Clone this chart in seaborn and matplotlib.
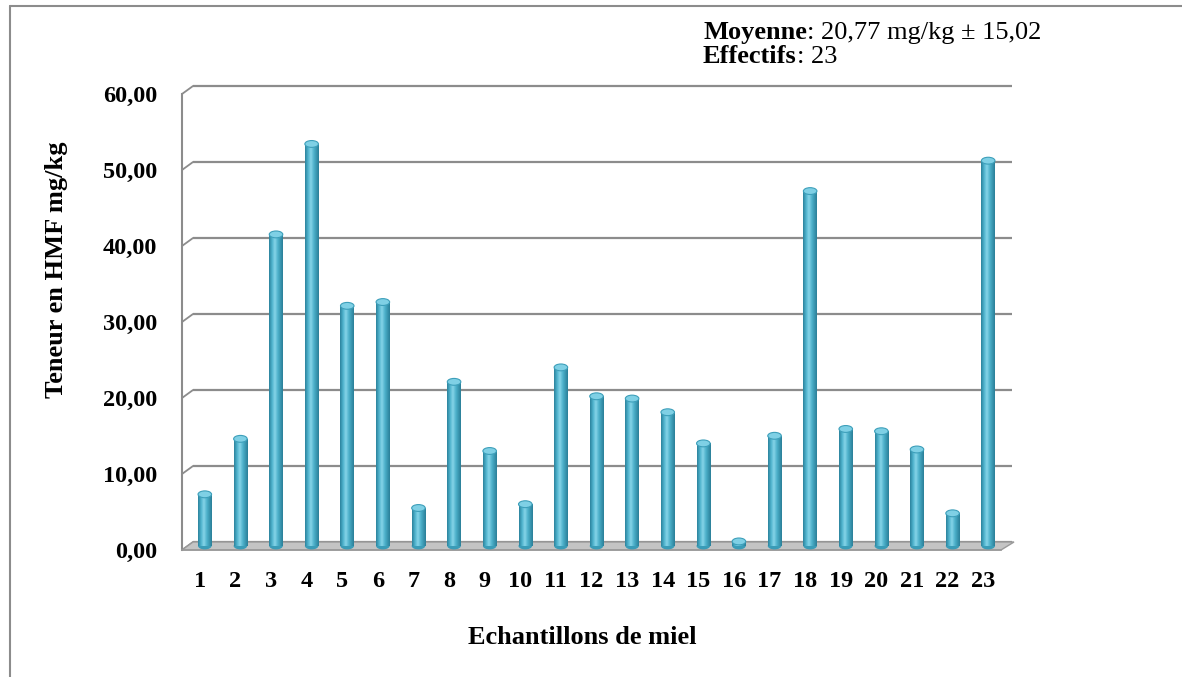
import numpy as np
import pandas as pd
import matplotlib
matplotlib.use("Agg")
import matplotlib.pyplot as plt
import seaborn as sns
from matplotlib.transforms import ScaledTranslation, IdentityTransform
from matplotlib.patches import Ellipse, Polygon
from matplotlib.lines import Line2D
from matplotlib.colors import LinearSegmentedColormap

# ---- data ----
samples = [str(i) for i in range(1, 24)]
hmf = [6.8, 14.1, 41.0, 52.9, 31.6, 32.1, 5.0, 21.6, 12.5, 5.5, 23.5, 19.7,
       19.4, 17.6, 13.5, 0.6, 14.5, 46.7, 15.4, 15.1, 12.7, 4.3, 50.7]
y_ticks = [0, 10, 20, 30, 40, 50, 60]
y_tick_labels = ["0,00", "10,00", "20,00", "30,00", "40,00", "50,00", "60,00"]
x_title = "Echantillons de miel"
y_title = "Teneur en HMF mg/kg"
mean_label = "Moyenne"
mean_text = ": 20,77 mg/kg \u00b1 15,02"
n_label = "Effectifs"
n_text = ": 23"

W, H, DPI = 1182, 677, 100
GRID = "#8c8c8c"

sns.set_style("white")
plt.rcParams["font.family"] = ["Liberation Serif", "DejaVu Serif"]
plt.rcParams["text.color"] = "black"
plt.rcParams["xtick.labelcolor"] = "black"
plt.rcParams["ytick.labelcolor"] = "black"

fig = plt.figure(figsize=(W / DPI, H / DPI), dpi=DPI)
fig.patch.set_facecolor("white")
ax = fig.add_axes([182 / W, (H - 550) / H, 819 / W, 456 / H])
ax.patch.set_visible(False)

df = pd.DataFrame({"sample": samples, "hmf": hmf})
sns.barplot(data=df, x="sample", y="hmf", color="#4bacc6", width=0.38,
            saturation=1, ax=ax, zorder=3, linewidth=0)

bar_off = ax.transData + ScaledTranslation(5 / DPI, 4 / DPI, fig.dpi_scale_trans)
back_off = ax.transData + ScaledTranslation(11 / DPI, 8 / DPI, fig.dpi_scale_trans)

cmap = LinearSegmentedColormap.from_list(
    "cyl", [(0, "#2b829c"), (0.22, "#4fb3cd"), (0.42, "#86d4e8"),
            (0.65, "#4cb0ca"), (1, "#2a7f98")])
grad = np.linspace(0, 1, 64).reshape(1, -1)

patches = list(ax.patches)
for p in patches:
    p.set_transform(bar_off)
    x0 = p.get_x()
    w = p.get_width()
    h = p.get_height()
    base = Ellipse((x0 + w / 2, 0), w, 0.9, transform=bar_off,
                   facecolor="#3a9cb7", edgecolor="none", zorder=2.9)
    ax.add_patch(base)
    im = ax.imshow(grad, extent=(x0, x0 + w, 0, h), aspect="auto", cmap=cmap,
                   transform=bar_off, zorder=3.5, interpolation="bilinear")
    im.set_clip_path(p)
    cap = Ellipse((x0 + w / 2, h), w, 0.9, transform=bar_off,
                  facecolor="#7fd0e5", edgecolor="#3d9fba", lw=0.8, zorder=4)
    ax.add_patch(cap)

ax.set_xlim(-0.5, 22.5)
ax.set_ylim(0, 60)
ax.grid(False)
ax.set_xlabel("")
ax.set_ylabel("")

# back wall gridlines
for v in y_ticks:
    ax.plot([-0.5, 22.5], [v, v], transform=back_off, color=GRID, lw=1.6,
            zorder=1, clip_on=False, solid_capstyle="butt")

# floor and diagonal connectors (display coords)
fl = ax.transData.transform((-0.5, 0))
fr = ax.transData.transform((22.5, 0))
floor = Polygon([fl, fr, fr + [13, 8], fl + [11, 8]], closed=True,
                transform=IdentityTransform(), facecolor="#c4c4c4",
                edgecolor="#9a9a9a", lw=1, zorder=2, clip_on=False)
ax.add_artist(floor)
for v in y_ticks:
    p = ax.transData.transform((-0.5, v))
    ax.add_artist(Line2D([p[0], p[0] + 11], [p[1], p[1] + 8],
                         transform=IdentityTransform(), color=GRID, lw=1.3,
                         zorder=1.5, clip_on=False))

# spines
for s in ["top", "right"]:
    ax.spines[s].set_visible(False)
ax.spines["left"].set_color(GRID)
ax.spines["left"].set_linewidth(1.5)
ax.spines["bottom"].set_color("#9a9a9a")
ax.spines["bottom"].set_linewidth(1.2)

ax.set_yticks(y_ticks, y_tick_labels)
ax.tick_params(axis="y", direction="out", length=5, width=1.2, color=GRID,
               labelcolor="black", pad=13, labelsize=17.5)
ax.set_xticks(range(len(samples)), samples)
ax.tick_params(axis="x", which="major", length=0, pad=15, labelsize=17.5,
               labelcolor="black")
ax.set_xticks(np.arange(-0.5, len(samples), 1), minor=True)
ax.tick_params(axis="x", which="minor", direction="out", length=5, width=1.2,
               color=GRID)
for t in ax.get_yticklabels() + ax.get_xticklabels():
    t.set_fontweight("bold")

# axis titles
fig.text(57 / W, 1 - 270 / H, y_title, rotation=90, ha="center", va="center",
         fontsize=19, fontweight="bold", color="black")
fig.text(582 / W, 1 - 637 / H, x_title, ha="center", va="center",
         fontsize=19, fontweight="bold", color="black")

# annotation
r = fig.canvas.get_renderer()
for (lab, txt, yb) in [(mean_label, mean_text, 39), (n_label, n_text, 63)]:
    t1 = fig.text(703 / W, 1 - yb / H, lab, fontweight="bold", fontsize=19,
                  va="baseline", ha="left", color="black")
    bb = t1.get_window_extent(r)
    fig.text(bb.x1 / W, 1 - yb / H, txt, fontsize=19, va="baseline",
             ha="left", color="black")

# outer frame
fig.add_artist(Line2D([10 / W, 1], [1 - 6 / H, 1 - 6 / H],
                      transform=fig.transFigure, color=GRID, lw=1.5))
fig.add_artist(Line2D([10 / W, 10 / W], [0, 1 - 6 / H],
                      transform=fig.transFigure, color=GRID, lw=1.5))

fig.savefig("out.png", dpi=DPI, facecolor="white")
